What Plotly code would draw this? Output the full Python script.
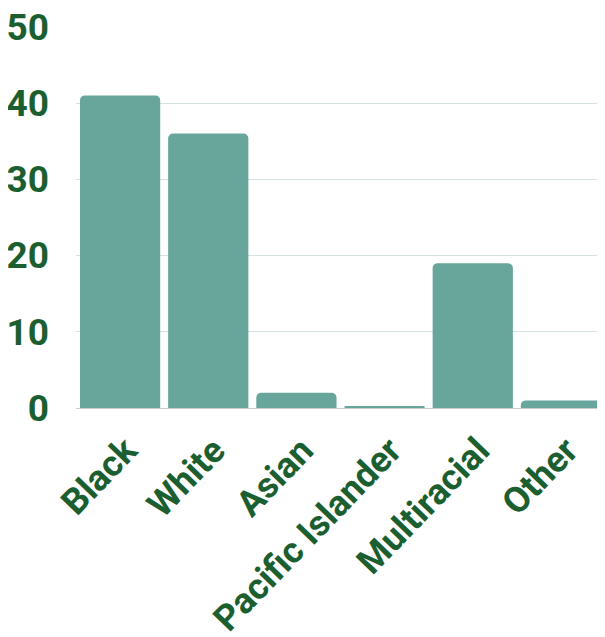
import plotly.graph_objects as go

categories = ["Black", "White", "Asian", "Pacific Islander", "Multiracial", "Other"]
values = [41, 36, 2, 0.2, 19, 1]
y_ticks = [0, 10, 20, 30, 40, 50]

text_color = "#1b5e2f"
bar_color = "#68a69b"

fig = go.Figure(go.Bar(x=categories, y=values, marker=dict(color=bar_color, line=dict(width=0))))
fig.update_layout(
    width=597, height=629,
    margin=dict(l=68, r=0, t=18, b=229),
    plot_bgcolor="white", paper_bgcolor="white",
    bargap=0.09,
    barcornerradius=5,
    showlegend=False,
    font=dict(family="Roboto", color=text_color),
)
fig.update_yaxes(
    range=[0, 50.1], tickvals=y_ticks, showgrid=True, gridcolor="#d3e3df", gridwidth=1,
    zeroline=True, zerolinecolor="#cccccc", zerolinewidth=1,
    tickfont=dict(size=37, family="Roboto", weight="bold", color=text_color),
    ticklabelstandoff=26, automargin=False, ticklabeloverflow="allow",
)
fig.update_xaxes(
    tickangle=-46, showgrid=False, automargin=False,
    tickfont=dict(size=36, family="Roboto", weight="bold", color=text_color),
    ticklabelstandoff=13, ticklabelshift=6,
)
fig.write_html("out.html")
